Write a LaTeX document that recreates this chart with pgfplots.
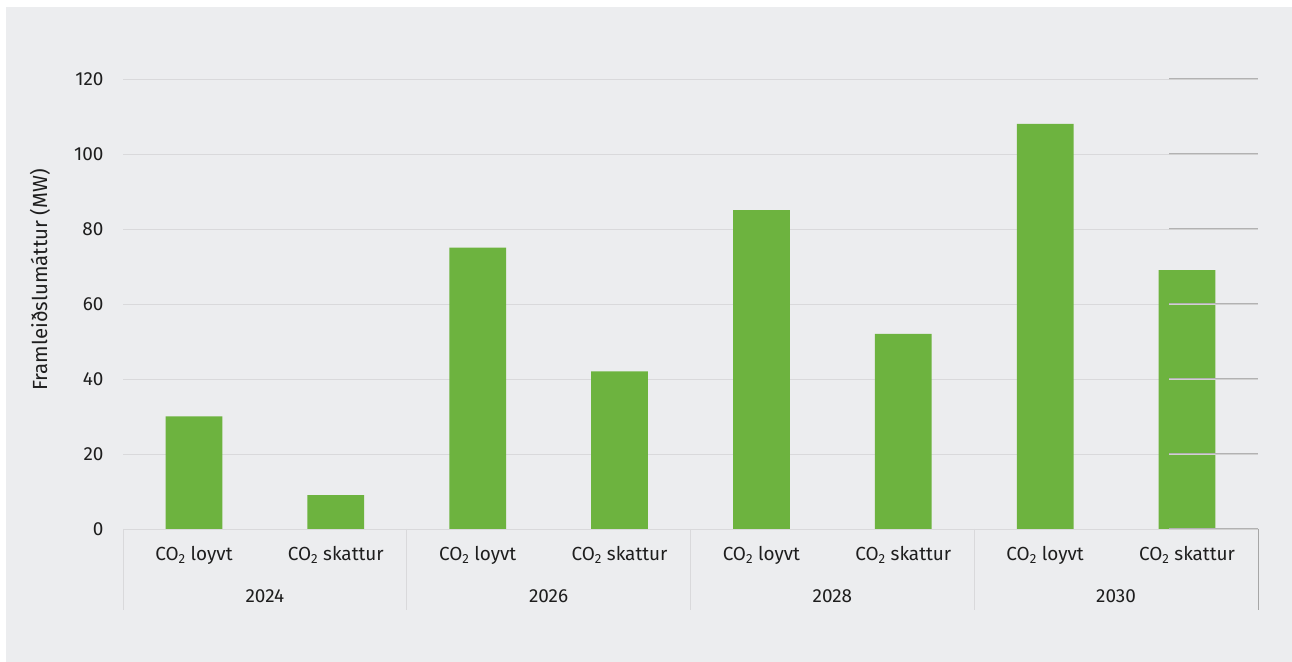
\documentclass[border=0pt]{standalone}
\usepackage{pgfplots}
\pgfplotsset{compat=1.18}
\usepackage{fontspec}
\setmainfont{Fira Sans}
\definecolor{panel}{HTML}{ECEDEF}
\definecolor{bargreen}{HTML}{6DB33F}
\definecolor{gridc}{HTML}{D9D9DB}
\definecolor{txt}{HTML}{1E1E1E}
\begin{document}
\begin{tikzpicture}[x=1bp,y=1bp]
\path[use as bounding box] (0,0) rectangle (1292,662);
\fill[white] (0,0) rectangle (1292,662);
\fill[panel] (6,0) rectangle (1292,655);
\begin{axis}[
  at={(123bp,133bp)}, anchor=south west,
  scale only axis, width=1135bp, height=450bp,
  xmin=-0.5, xmax=7.5, ymin=0, ymax=120,
  ytick={0,20,...,120},
  xtick={0,...,7},
  xticklabels={CO\textsubscript{2} loyvt,CO\textsubscript{2} skattur,CO\textsubscript{2} loyvt,CO\textsubscript{2} skattur,CO\textsubscript{2} loyvt,CO\textsubscript{2} skattur,CO\textsubscript{2} loyvt,CO\textsubscript{2} skattur},
  axis line style={draw=none},
  major tick length=0pt,
  ymajorgrids, grid style={gridc, line width=0.8bp},
  tick label style={font=\fontsize{19}{21}\selectfont, text=txt},
  /pgf/number format/assume math mode=true,
  yticklabel style={xshift=-16bp},
  xticklabel style={yshift=-14bp},
  clip=false,
]
\addplot[ybar, bar width=0.4, fill=bargreen, draw=none] coordinates {
  (0,30) (1,9) (2,75) (3,42) (4,85) (5,52) (6,108) (7,69)
};
\end{axis}
% group separators and year labels
\foreach \xx in {123,406.75,690.5,974.25} {
  \draw[gridc, line width=0.9bp] (\xx,133) -- (\xx,52);
}
\draw[black!35, line width=1bp] (1258,133) -- (1258,52);
\foreach \yy in {133,208,283,358,433,508,583} {
  \draw[black!30, line width=0.8bp] (1169,\yy+0.7) -- (1258,\yy+0.7);
  \draw[black!18, line width=0.8bp] (1169,\yy-0.5) -- (1258,\yy-0.5);
}
\begin{scope}[every node/.style={font=\fontsize{19}{21}\selectfont, text=txt}]
\node at (264.9,66) {2024};
\node at (548.6,66) {2026};
\node at (832.4,66) {2028};
\node at (1116.1,66) {2030};
\node[rotate=90, font=\fontsize{20.5}{22}\selectfont] at (40,382) {Framleiðslumáttur (MW)};
\end{scope}
\end{tikzpicture}
\end{document}
